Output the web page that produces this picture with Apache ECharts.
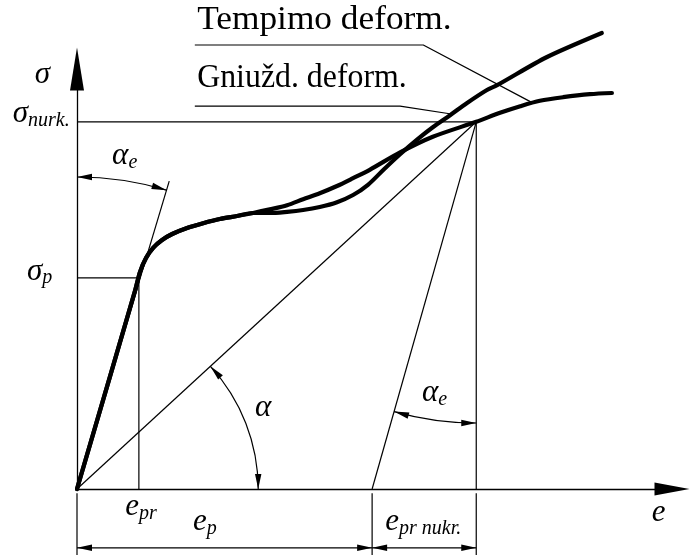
<!DOCTYPE html>
<html>
<head>
<meta charset="utf-8">
<script src="https://cdn.jsdelivr.net/npm/echarts@6/dist/echarts.min.js"></script>
<style>
  html, body { margin: 0; padding: 0; background: #fff; }
  #chart { width: 690px; height: 555px; }
</style>
</head>
<body>
<div id="chart"></div>
<script>
// Stress–strain diagram: tension and compression curves with the
// elastic, secant and unloading construction lines.

// Characteristic points (strain e, stress sigma)
const E_PR = 1.04, SIGMA_P = 3.52;        // proportional limit
const E_NURK = 6.71, SIGMA_NURK = 6.12;   // unloading point
const E_P = 4.96;                         // plastic strain after unloading
const ELASTIC_TOP = [1.55, 5.13];         // end of the initial tangent line

// Tension curve ("Tempimo deform.")
const tensionCurve = [
  [0, 0], [0.98, 3.32], [1.06, 3.62], [1.16, 3.85], [1.28, 4.02], [1.43, 4.15],
  [1.60, 4.25], [1.85, 4.35], [2.12, 4.43], [2.40, 4.50], [2.69, 4.55], [2.96, 4.60],
  [3.24, 4.66], [3.53, 4.73], [3.80, 4.83], [4.08, 4.93], [4.37, 5.05], [4.64, 5.18],
  [4.92, 5.32], [5.43, 5.61], [5.98, 5.87], [6.71, 6.12], [7.11, 6.27], [7.45, 6.38],
  [7.78, 6.47], [8.17, 6.53], [8.62, 6.58], [8.99, 6.60]
];

// Compression curve ("Gniužd. deform.")
const compressionCurve = [
  [0, 0], [0.98, 3.32], [1.06, 3.62], [1.16, 3.85], [1.28, 4.02], [1.43, 4.15],
  [1.60, 4.25], [1.85, 4.35], [2.12, 4.43], [2.40, 4.50], [2.69, 4.55], [2.96, 4.60],
  [3.24, 4.60], [3.53, 4.62], [3.80, 4.65], [4.08, 4.70], [4.37, 4.78], [4.64, 4.90],
  [4.89, 5.07], [5.16, 5.33], [5.43, 5.58], [5.71, 5.82], [5.98, 6.03], [6.27, 6.23],
  [6.55, 6.43], [6.89, 6.65], [7.06, 6.73], [7.90, 7.20], [8.82, 7.60]
];

// Leader lines from the curve names to the curves
const tensionLeader = [[1.98, 7.40], [5.82, 7.40], [7.65, 6.44]];
const compressionLeader = [[1.98, 6.38], [5.43, 6.38], [6.29, 6.25]];

// Dimension line level and extension-line range (below the e axis)
const DIM_LEVEL = -0.98;
const EXT_RANGE = [-0.07, -1.10];
const dimSpans = [[0, E_P], [E_P, E_NURK]];

// Construction lines
const guideLines = [
  [[0, SIGMA_NURK], [E_NURK, SIGMA_NURK]],
  [[E_NURK, SIGMA_NURK], [E_NURK, 0]],
  [[0, SIGMA_P], [E_PR, SIGMA_P]],
  [[E_PR, SIGMA_P], [E_PR, 0]],
  [[0, 0], [E_NURK, SIGMA_NURK]],
  [[E_P, 0], [E_NURK, SIGMA_NURK]],
  [[0, 0], ELASTIC_TOP],
  [[0, EXT_RANGE[0]], [0, EXT_RANGE[1]]],
  [[E_P, EXT_RANGE[0]], [E_P, EXT_RANGE[1]]],
  [[E_NURK, EXT_RANGE[0]], [E_NURK, EXT_RANGE[1]]],
  tensionLeader,
  compressionLeader
];

// Angle marks: centre, radius (stress units), from-direction point, to-direction point
const angleMarks = [
  { center: [0, 0], radius: 3.02, from: [1, 0], to: [E_NURK, SIGMA_NURK] },       // alpha
  { center: [0, 0], radius: 5.20, from: [0, 1], to: ELASTIC_TOP },                // alpha_e at origin
  { center: [E_NURK, SIGMA_NURK], radius: 5.02, from: [E_NURK, 0], to: [E_P, 0] }  // alpha_e at unloading
];

// Text labels: main text, subscript, anchor (left end of baseline, data units)
const labelTexts = [
  ['Tempimo deform.', ''], ['Gniužd. deform.', ''],
  ['σ', ''], ['σ', 'nurk.'], ['α', 'e'], ['σ', 'p'], ['α', ''], ['α', 'e'],
  ['e', 'pr'], ['e', 'p'], ['e', 'pr nukr.'], ['e', '']
];
const labelAnchors = [
  [2.02, 7.62], [2.02, 6.65],
  [-0.71, 6.73], [-1.08, 6.07], [0.59, 5.37], [-0.84, 3.45], [2.99, 1.18], [5.80, 1.43],
  [0.81, -0.48], [1.95, -0.73], [5.18, -0.73], [9.66, -0.57]
];

const SERIF = '"Liberation Serif", "Times New Roman", serif';
const TITLE_SIZE = 33, MAIN_SIZE = 31, SUB_SIZE = 20, SUB_DROP = 3;
const TITLE_STRETCH = [1.07, 0.965];
const THIN = 1.2, THICK = 4.2;

const measureCtx = document.createElement('canvas').getContext('2d');
function textWidth(text, size, style) {
  measureCtx.font = style + ' ' + size + 'px ' + SERIF;
  return measureCtx.measureText(text).width;
}

function arrowHead(tip, dir, len, half) {
  len = len || 15; half = half || 3.2;
  const n = [-dir[1], dir[0]];
  const bx = tip[0] - dir[0] * len, by = tip[1] - dir[1] * len;
  return {
    type: 'polygon',
    shape: { points: [tip, [bx + n[0] * half, by + n[1] * half], [bx - n[0] * half, by - n[1] * half]] },
    style: { fill: '#000', stroke: 'none' }
  };
}

const series = [];

guideLines.forEach(function (seg) {
  series.push({
    type: 'line', data: seg, symbol: 'none', clip: false, silent: true, z: 2,
    lineStyle: { color: '#000', width: THIN }
  });
});

[['Tempimo deform.', tensionCurve], ['Gniužd. deform.', compressionCurve]].forEach(function (c) {
  series.push({
    name: c[0], type: 'line', data: c[1], symbol: 'none', smooth: 0.3, clip: false, z: 3,
    lineStyle: { color: '#000', width: THICK, cap: 'round', join: 'round' }
  });
});

// Angle arcs with arrowheads
series.push({
  type: 'custom', silent: true, z: 4, clip: false,
  data: angleMarks.map(function (m) { return m.center; }),
  renderItem: function (params, api) {
    const m = angleMarks[params.dataIndex];
    const c = api.coord(m.center);
    const r = api.size([0, m.radius])[1];
    const pa = api.coord(m.from), pb = api.coord(m.to);
    let a1 = Math.atan2(pa[1] - c[1], pa[0] - c[0]);
    let a2 = Math.atan2(pb[1] - c[1], pb[0] - c[0]);
    if (a2 < a1) { const t = a1; a1 = a2; a2 = t; }
    return {
      type: 'group',
      children: [
        {
          type: 'arc',
          shape: { cx: c[0], cy: c[1], r: r, startAngle: a1, endAngle: a2, clockwise: true },
          style: { stroke: '#000', lineWidth: THIN, fill: 'none' }
        },
        arrowHead([c[0] + r * Math.cos(a1), c[1] + r * Math.sin(a1)], [Math.sin(a1), -Math.cos(a1)]),
        arrowHead([c[0] + r * Math.cos(a2), c[1] + r * Math.sin(a2)], [-Math.sin(a2), Math.cos(a2)])
      ]
    };
  }
});

// Dimension lines under the e axis
series.push({
  type: 'custom', silent: true, z: 4, clip: false,
  data: dimSpans,
  renderItem: function (params, api) {
    const p1 = api.coord([api.value(0), DIM_LEVEL]);
    const p2 = api.coord([api.value(1), DIM_LEVEL]);
    return {
      type: 'group',
      children: [
        { type: 'line', shape: { x1: p1[0], y1: p1[1], x2: p2[0], y2: p2[1] },
          style: { stroke: '#000', lineWidth: THIN } },
        arrowHead(p1, [-1, 0]),
        arrowHead(p2, [1, 0])
      ]
    };
  }
});

// Text labels
series.push({
  type: 'custom', silent: true, z: 5, clip: false,
  data: labelAnchors,
  renderItem: function (params, api) {
    const i = params.dataIndex;
    const main = labelTexts[i][0], sub = labelTexts[i][1];
    const isTitle = i < 2;
    const size = isTitle ? TITLE_SIZE : MAIN_SIZE;
    const fstyle = isTitle ? 'normal' : 'italic';
    const p = api.coord([api.value(0), api.value(1)]);
    const children = [{
      type: 'text', x: p[0], y: p[1] - 0.34 * size,
      scaleX: isTitle ? TITLE_STRETCH[i] : 1,
      style: { text: main, fontFamily: SERIF, fontSize: size, fontStyle: fstyle,
               fill: '#000', align: 'left', verticalAlign: 'middle' }
    }];
    if (sub) {
      const w = textWidth(main, size, fstyle);
      children.push({
        type: 'text', x: p[0] + w, y: p[1] + SUB_DROP - 0.34 * SUB_SIZE,
        style: { text: sub, fontFamily: SERIF, fontSize: SUB_SIZE, fontStyle: 'italic',
                 fill: '#000', align: 'left', verticalAlign: 'middle' }
      });
    }
    return { type: 'group', children: children };
  }
});

const axisCommon = {
  type: 'value', min: 0,
  splitLine: { show: false }, axisTick: { show: false }, axisLabel: { show: false },
  axisPointer: { show: false }
};

const chart = echarts.init(document.getElementById('chart'), null, { renderer: 'canvas' });
chart.setOption({
  animation: false,
  backgroundColor: '#fff',
  grid: { left: 77, right: 18, top: 69, bottom: 66, containLabel: false },
  xAxis: Object.assign({}, axisCommon, {
    max: 10,
    axisLine: { show: true, onZero: false, symbol: ['none', 'triangle'], symbolSize: [13, 35],
                lineStyle: { color: '#000', width: 1.3 } }
  }),
  yAxis: Object.assign({}, axisCommon, {
    max: 7,
    axisLine: { show: true, onZero: false, symbol: ['none', 'triangle'], symbolSize: [14, 43],
                lineStyle: { color: '#000', width: 1.3 } }
  }),
  series: series
});
</script>
</body>
</html>
